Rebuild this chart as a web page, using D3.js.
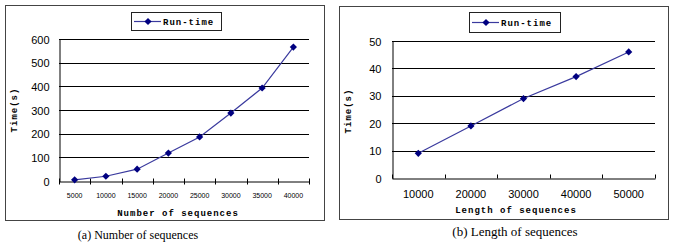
<!DOCTYPE html>
<html>
<head>
<meta charset="utf-8">
<script src="https://cdn.jsdelivr.net/npm/d3@7"></script>
<style>
    body { margin: 0; background: #fff; }
    svg { display: block; }
</style>
</head>
<body>
<svg id="drawing"></svg>
<script>
// panel (a)
const seqCounts = ['5000', '10000', '15000', '20000', '25000', '30000', '35000', '40000'];
const runtimeByCount = [5, 20, 50, 118, 186, 287, 393, 566];
const countTicks = [0, 100, 200, 300, 400, 500, 600];

// panel (b)
const seqLengths = ['10000', '20000', '30000', '40000', '50000'];
const runtimeByLength = [9, 19, 29, 37, 46];
const lengthTicks = [0, 10, 20, 30, 40, 50];

const seriesName = 'Run-time';

class LinePanel {

    constructor( config, categories, values, ticks ) {
        this.config = config;
        this.categories = categories;
        this.values = values;
        this.ticks = ticks;
        this.init();
    }

    init() {
        let self = this;
        const c = self.config;

        self.g = d3.select('#drawing').append('g');

        // outer frame
        self.g.append('rect')
            .attr('x', c.frame.x).attr('y', c.frame.y)
            .attr('width', c.frame.w).attr('height', c.frame.h)
            .attr('fill', 'none')
            .attr('stroke', '#444');

        self.xscale = d3.scaleBand()
            .domain( self.categories )
            .range( [c.plot.left, c.plot.right] )
            .padding(0);

        self.yscale = d3.scaleLinear()
            .domain( [0, d3.max(self.ticks)] )
            .range( [c.plot.bottom, c.plot.top] );
    }

    render() {
        let self = this;
        const c = self.config;

        // gridlines
        self.g.append('g')
            .selectAll('line')
            .data( self.ticks.filter(d => d > 0) )
            .join('line')
            .attr('x1', c.plot.left).attr('x2', c.plot.right)
            .attr('y1', d => Math.round(self.yscale(d)) + 0.5)
            .attr('y2', d => Math.round(self.yscale(d)) + 0.5)
            .attr('stroke', '#000');

        // y axis
        const yaxis = d3.axisLeft( self.yscale )
            .tickValues( self.ticks )
            .tickSize(0)
            .tickPadding(c.ytickPad);
        const yg = self.g.append('g')
            .attr('transform', `translate(${c.plot.left + 0.5}, 0.5)`)
            .call( yaxis );
        yg.select('.domain').attr('stroke', '#000');
        yg.selectAll('text')
            .style('font-family', 'Liberation Sans, Arial, sans-serif')
            .style('font-size', '11px')
            .attr('fill', '#000');

        // x axis: labels at band centres, tick marks at band edges
        const xaxis = d3.axisBottom( self.xscale )
            .tickSize(0)
            .tickPadding(c.xtickPad);
        const xg = self.g.append('g')
            .attr('transform', `translate(0, ${Math.round(c.plot.bottom) + 0.5})`)
            .call( xaxis );
        xg.select('.domain').attr('stroke', '#000');
        xg.selectAll('text')
            .style('font-family', 'Liberation Sans, Arial, sans-serif')
            .style('font-size', c.xfont)
            .attr('fill', '#000');

        const edges = self.categories.map(d => self.xscale(d)).concat([c.plot.right]);
        xg.selectAll('.edge')
            .data(edges)
            .join('line')
            .attr('class', 'edge')
            .attr('x1', d => Math.round(d) + 0.5).attr('x2', d => Math.round(d) + 0.5)
            .attr('y1', c.tickUp).attr('y2', c.tickDown)
            .attr('stroke', '#000');

        // series
        const line = d3.line()
            .x((d, i) => self.xscale(self.categories[i]) + self.xscale.bandwidth() / 2)
            .y(d => self.yscale(d));

        self.g.append('path')
            .datum( self.values )
            .attr('d', line)
            .attr('fill', 'none')
            .attr('stroke', '#3a3a9e')
            .attr('stroke-width', 1.2);

        const diamond = d3.symbol(d3.symbolSquare, 26);
        self.g.append('g')
            .selectAll('path')
            .data( self.values )
            .join('path')
            .attr('d', diamond)
            .attr('transform', (d, i) =>
                `translate(${self.xscale(self.categories[i]) + self.xscale.bandwidth() / 2}, ${self.yscale(d)}) rotate(45)`)
            .attr('fill', '#000080');

        // legend
        const lg = self.g.append('g');
        lg.append('rect')
            .attr('x', c.legend.x + 0.5).attr('y', c.legend.y + 0.5)
            .attr('width', c.legend.w).attr('height', c.legend.h)
            .attr('fill', '#fff')
            .attr('stroke', '#222');
        const ly = c.legend.y + c.legend.h / 2 + 0.5;
        lg.append('line')
            .attr('x1', c.legend.x + 3).attr('x2', c.legend.x + 30)
            .attr('y1', ly).attr('y2', ly)
            .attr('stroke', '#3a3a9e')
            .attr('stroke-width', 1.2);
        lg.append('path')
            .attr('d', diamond)
            .attr('transform', `translate(${c.legend.x + 17}, ${ly}) rotate(45)`)
            .attr('fill', '#000080');
        lg.append('text')
            .attr('class', 'mono')
            .attr('x', c.legend.x + 32)
            .attr('y', ly)
            .attr('dy', '0.35em')
            .text( seriesName );

        // axis titles
        self.g.append('text')
            .attr('class', 'mono')
            .attr('text-anchor', 'middle')
            .attr('x', c.xtitle.x).attr('y', c.xtitle.y)
            .attr('dy', '0.35em')
            .text( c.xlabel );

        self.g.append('text')
            .attr('class', 'mono')
            .attr('text-anchor', 'middle')
            .attr('transform', `translate(${c.ytitle.x}, ${c.ytitle.y}) rotate(-90)`)
            .attr('dy', '0.35em')
            .text( 'Time(s)' );

        self.g.selectAll('.mono')
            .style('font-family', 'Liberation Mono, DejaVu Sans Mono, monospace')
            .style('font-size', '9px')
            .style('font-weight', 'bold')
            .style('letter-spacing', '1px')
            .attr('fill', '#000');

        // caption below frame
        self.g.append('text')
            .attr('text-anchor', 'middle')
            .attr('x', c.caption.x).attr('y', c.caption.y)
            .attr('dy', '0.35em')
            .style('font-family', 'Liberation Serif, Times New Roman, serif')
            .style('font-size', c.caption.size)
            .attr('fill', '#000')
            .text( c.caption.text );
    }
}

d3.select('#drawing').attr('width', 685).attr('height', 246);

new LinePanel({
    frame: {x: 5.5, y: 5.5, w: 319, h: 215},
    plot: {left: 59, top: 39, right: 309, bottom: 181},
    legend: {x: 131, y: 12, w: 90, h: 18},
    ytickPad: 10, xtickPad: 12, xfont: '7px',
    tickUp: -3, tickDown: 3,
    xlabel: 'Number of sequences',
    xtitle: {x: 178, y: 213},
    ytitle: {x: 14, y: 110},
    caption: {x: 138, y: 235, size: '12px', text: '(a) Number of sequences'}
}, seqCounts, runtimeByCount, countTicks).render();

new LinePanel({
    frame: {x: 339.5, y: 6.5, w: 329, h: 213},
    plot: {left: 392, top: 41, right: 655, bottom: 178},
    legend: {x: 469, y: 12, w: 91, h: 20},
    ytickPad: 11, xtickPad: 12, xfont: '11px',
    tickUp: -4, tickDown: 0,
    xlabel: 'Length of sequences',
    xtitle: {x: 516, y: 210},
    ytitle: {x: 348, y: 111},
    caption: {x: 515, y: 231, size: '13px', text: '(b) Length of sequences'}
}, seqLengths, runtimeByLength, lengthTicks).render();
</script>
</body>
</html>
